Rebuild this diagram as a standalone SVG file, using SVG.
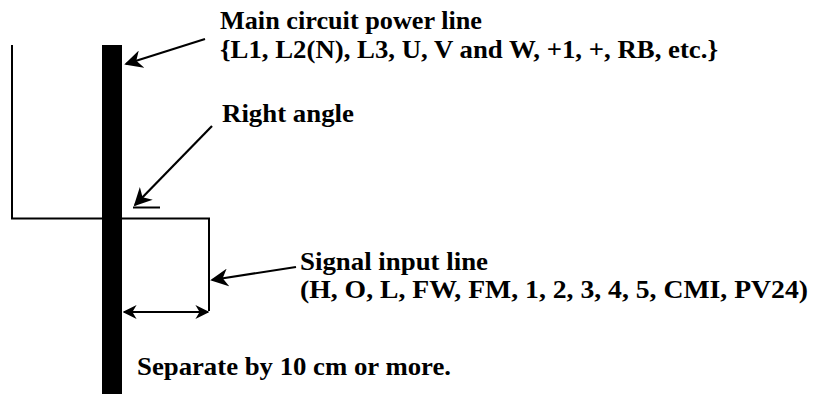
<svg xmlns="http://www.w3.org/2000/svg" width="813" height="394" viewBox="0 0 813 394">
<style>
.t{font-family:"Liberation Serif","Times New Roman",serif;font-weight:bold;font-size:25px;fill:#000}
.ln{stroke:#000;stroke-width:2;fill:none}
.ar{stroke:#000;stroke-width:2.2;fill:none}
</style>
<defs>
<marker id="ahb" viewBox="0 0 10 10" refX="9" refY="5" markerWidth="14" markerHeight="14" orient="auto-start-reverse" markerUnits="userSpaceOnUse">
<path d="M0,0 L10,5 L0,10 L3,5 Z" fill="#000"/>
</marker>
<marker id="ahl" viewBox="0 0 10 10" refX="9" refY="5" markerWidth="18" markerHeight="18" orient="auto" markerUnits="userSpaceOnUse">
<path d="M0,0 L10,5 L0,10 L3,5 Z" fill="#000"/>
</marker>
</defs>
<g id="wiring">
<rect id="power-line" x="102" y="45" width="20" height="349" fill="#000"/>
<path id="signal-line" class="ln" d="M12,45 V218.5 H209 V311"/>
</g>
<g id="connectors">
<line class="ar" x1="205" y1="39" x2="126" y2="64" marker-end="url(#ahl)"/>
<line class="ar" x1="212" y1="126" x2="135" y2="205" marker-end="url(#ahl)"/>
<line class="ln" x1="133" y1="207.5" x2="160" y2="207.5"/>
<line class="ar" x1="296" y1="267" x2="212" y2="280" marker-end="url(#ahl)"/>
<line class="ln" x1="124" y1="312" x2="208" y2="312" marker-start="url(#ahb)" marker-end="url(#ahb)"/>
</g>
<g id="labels">
<text class="t" x="220" y="29" textLength="262" lengthAdjust="spacingAndGlyphs">Main circuit power line</text>
<text class="t" x="220" y="58" textLength="498" lengthAdjust="spacingAndGlyphs">{L1, L2(N), L3, U, V and W, +1, +, RB, etc.}</text>
<text class="t" x="222" y="122" textLength="132" lengthAdjust="spacingAndGlyphs">Right angle</text>
<text class="t" x="300" y="270" textLength="188" lengthAdjust="spacingAndGlyphs">Signal input line</text>
<text class="t" x="300" y="298" textLength="508" lengthAdjust="spacingAndGlyphs">(H, O, L, FW, FM, 1, 2, 3, 4, 5, CMI, PV24)</text>
<text class="t" x="137" y="375" textLength="314" lengthAdjust="spacingAndGlyphs">Separate by 10 cm or more.</text>
</g>
</svg>
